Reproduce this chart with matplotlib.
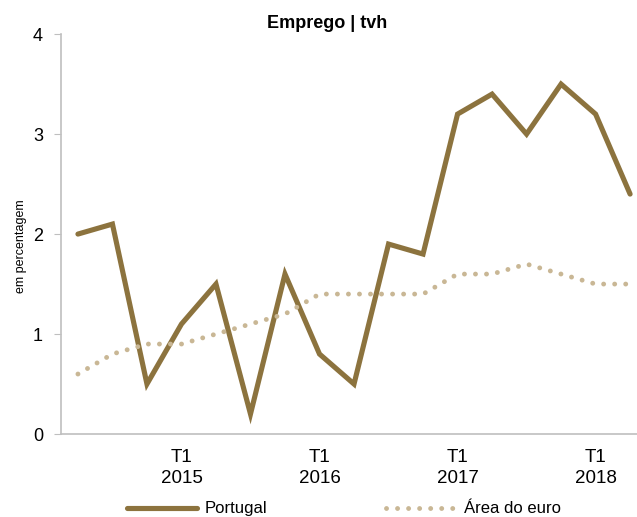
import matplotlib
matplotlib.use("Agg")
import matplotlib.pyplot as plt
from matplotlib.lines import Line2D

plt.rcParams['font.family'] = ['Liberation Sans', 'DejaVu Sans']

quarters = ["T2 2014", "T3 2014", "T4 2014",
            "T1 2015", "T2 2015", "T3 2015", "T4 2015",
            "T1 2016", "T2 2016", "T3 2016", "T4 2016",
            "T1 2017", "T2 2017", "T3 2017", "T4 2017",
            "T1 2018", "T2 2018"]
portugal = [2.0, 2.1, 0.5, 1.1, 1.5, 0.2, 1.6, 0.8, 0.5, 1.9, 1.8, 3.2, 3.4, 3.0, 3.5, 3.2, 2.4]
euro_area = [0.6, 0.8, 0.9, 0.9, 1.0, 1.1, 1.2, 1.4, 1.4, 1.4, 1.4, 1.6, 1.6, 1.7, 1.6, 1.5, 1.5]
tick_idx = [3, 7, 11, 15]
tick_labels = ["T1\n2015", "T1\n2016", "T1\n2017", "T1\n2018"]

c_pt = "#8C733E"
c_ea = "#C9B795"
dot_lw = 3.5
dot_style = (0, (0.01, 2.26))

fig = plt.figure(figsize=(6.37, 5.17), dpi=100)
ax = fig.add_axes([0.0958, 0.1605, 0.9042, 0.7735])
x = list(range(len(quarters)))
ax.plot(x, portugal, color=c_pt, lw=3.7, solid_capstyle='round', solid_joinstyle='miter', label="Portugal")
ax.plot(x, euro_area, color=c_ea, lw=dot_lw, linestyle=dot_style, dash_capstyle='round', label="Área do euro")

ax.set_xlim(-0.49, 16.2)
ax.set_ylim(0, 4)
ax.set_yticks([0, 1, 2, 3, 4])
ax.set_xticks(tick_idx)
ax.set_xticklabels(tick_labels, fontsize=13.5, linespacing=1.3)
ax.tick_params(axis='x', length=0, pad=11)
ax.tick_params(axis='y', length=5, color='#BFBFBF', labelsize=13, pad=8, direction='out')
for s in ['top', 'right']:
    ax.spines[s].set_visible(False)
for s in ['left', 'bottom']:
    ax.spines[s].set_color('#BFBFBF')
    ax.spines[s].set_linewidth(1.2)
ax.set_ylabel("em percentagem", fontsize=9)
ax.yaxis.set_label_coords(-0.059, 0.47)
fig.text(0.514, 0.946, "Emprego | tvh", ha='center', va='baseline', fontsize=13, fontweight='bold')

handles = [Line2D([], [], color=c_pt, lw=3.7, solid_capstyle='round'),
           Line2D([], [], color=c_ea, lw=dot_lw, linestyle=dot_style, dash_capstyle='round')]
fig.legend(handles, ["Portugal", "Área do euro"], loc='center', bbox_to_anchor=(0.540, 0.0155),
           ncol=2, frameon=False, fontsize=12, handlelength=4.2, columnspacing=7.1, handletextpad=0.5)

fig.savefig("out.png", dpi=100)
